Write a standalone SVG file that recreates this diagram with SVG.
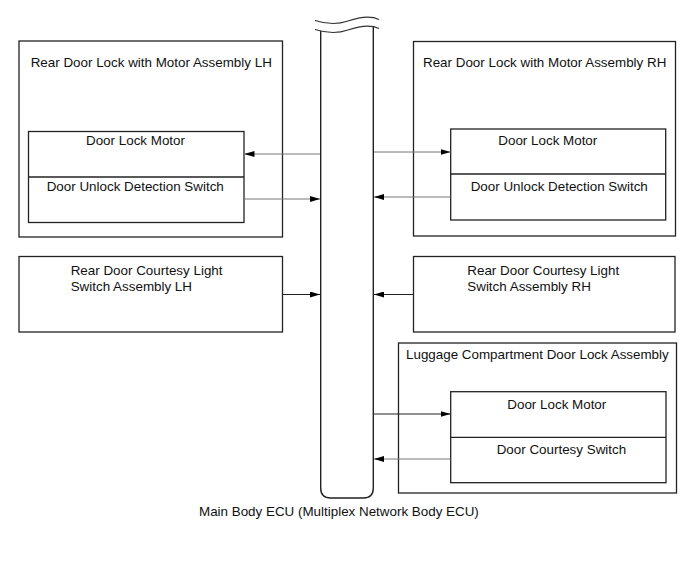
<svg xmlns="http://www.w3.org/2000/svg" width="691" height="564" viewBox="0 0 691 564">
<style>
text{font-family:"Liberation Sans",Arial,sans-serif;font-size:13.4px;fill:#111}
.box{fill:none;stroke:#222;stroke-width:1.3}
.bus{fill:#fff;stroke:#222;stroke-width:1.4}
.wave{fill:none;stroke:#333;stroke-width:1.1}
.c{fill:none;stroke:#777;stroke-width:1}
.cd{fill:none;stroke:#222;stroke-width:1}
</style>
<defs>
<marker id="ah" markerUnits="userSpaceOnUse" markerWidth="10" markerHeight="6" refX="10" refY="3" orient="auto">
<path d="M0,0 L10,3 L0,6 z" fill="#000"/>
</marker>
</defs>
<rect width="691" height="564" fill="#fff"/>

<g id="bus">
<path class="bus" d="M320.7,31 L320.7,488 Q320.7,498 330.7,498 L363.3,498 Q373.3,498 373.3,488 L373.3,27"/>
<path class="wave" d="M315,20.5 C326,24 338,24.5 348,21 S370,15 379,19.5"/>
<path class="wave" d="M315,29.5 C326,33 338,33.5 348,30 S370,24 379,28.5"/>
<text x="199" y="516">Main Body ECU (Multiplex Network Body ECU)</text>
</g>

<g id="lh-lock">
<rect class="box" x="19" y="41" width="263.5" height="196"/>
<text x="30.7" y="66.5">Rear Door Lock with Motor Assembly LH</text>
<rect class="box" x="28.5" y="131.5" width="215.5" height="91"/>
<line class="box" x1="28.5" y1="177" x2="244" y2="177"/>
<text x="86" y="145">Door Lock Motor</text>
<text x="46.7" y="191">Door Unlock Detection Switch</text>
</g>

<g id="rh-lock">
<rect class="box" x="413.5" y="41.5" width="262" height="194.5"/>
<text x="423" y="66.5">Rear Door Lock with Motor Assembly RH</text>
<rect class="box" x="450.7" y="129" width="215" height="91"/>
<line class="box" x1="450.7" y1="174" x2="665.7" y2="174"/>
<text x="498.3" y="145">Door Lock Motor</text>
<text x="470.7" y="190.7">Door Unlock Detection Switch</text>
</g>

<g id="lh-courtesy">
<rect class="box" x="19" y="256.5" width="263.5" height="75.5"/>
<text x="70.7" y="275">Rear Door Courtesy Light</text>
<text x="70.7" y="290.7">Switch Assembly LH</text>
</g>

<g id="rh-courtesy">
<rect class="box" x="413.5" y="256.5" width="261.5" height="75.5"/>
<text x="467.3" y="275">Rear Door Courtesy Light</text>
<text x="467.3" y="290.7">Switch Assembly RH</text>
</g>

<g id="luggage">
<rect class="box" x="398.5" y="343" width="278" height="150"/>
<text x="406" y="359">Luggage Compartment Door Lock Assembly</text>
<rect class="box" x="450.7" y="391.7" width="215.3" height="91"/>
<line class="box" x1="450.7" y1="437.3" x2="666" y2="437.3"/>
<text x="507.3" y="409.3">Door Lock Motor</text>
<text x="496.7" y="454">Door Courtesy Switch</text>
</g>

<g id="connectors">
<line class="c" x1="320" y1="154" x2="244.5" y2="154" marker-end="url(#ah)"/>
<line class="c" x1="244.5" y1="199" x2="320" y2="199" marker-end="url(#ah)"/>
<line class="c" x1="374" y1="152" x2="450.5" y2="152" marker-end="url(#ah)"/>
<line class="c" x1="450.5" y1="197" x2="374" y2="197" marker-end="url(#ah)"/>
<line class="cd" x1="282.5" y1="294.5" x2="320" y2="294.5" marker-end="url(#ah)"/>
<line class="cd" x1="413.5" y1="294.5" x2="374" y2="294.5" marker-end="url(#ah)"/>
<line class="cd" x1="374" y1="414" x2="450.5" y2="414" marker-end="url(#ah)"/>
<line class="c" x1="450.5" y1="459" x2="374" y2="459" marker-end="url(#ah)"/>
</g>
</svg>
